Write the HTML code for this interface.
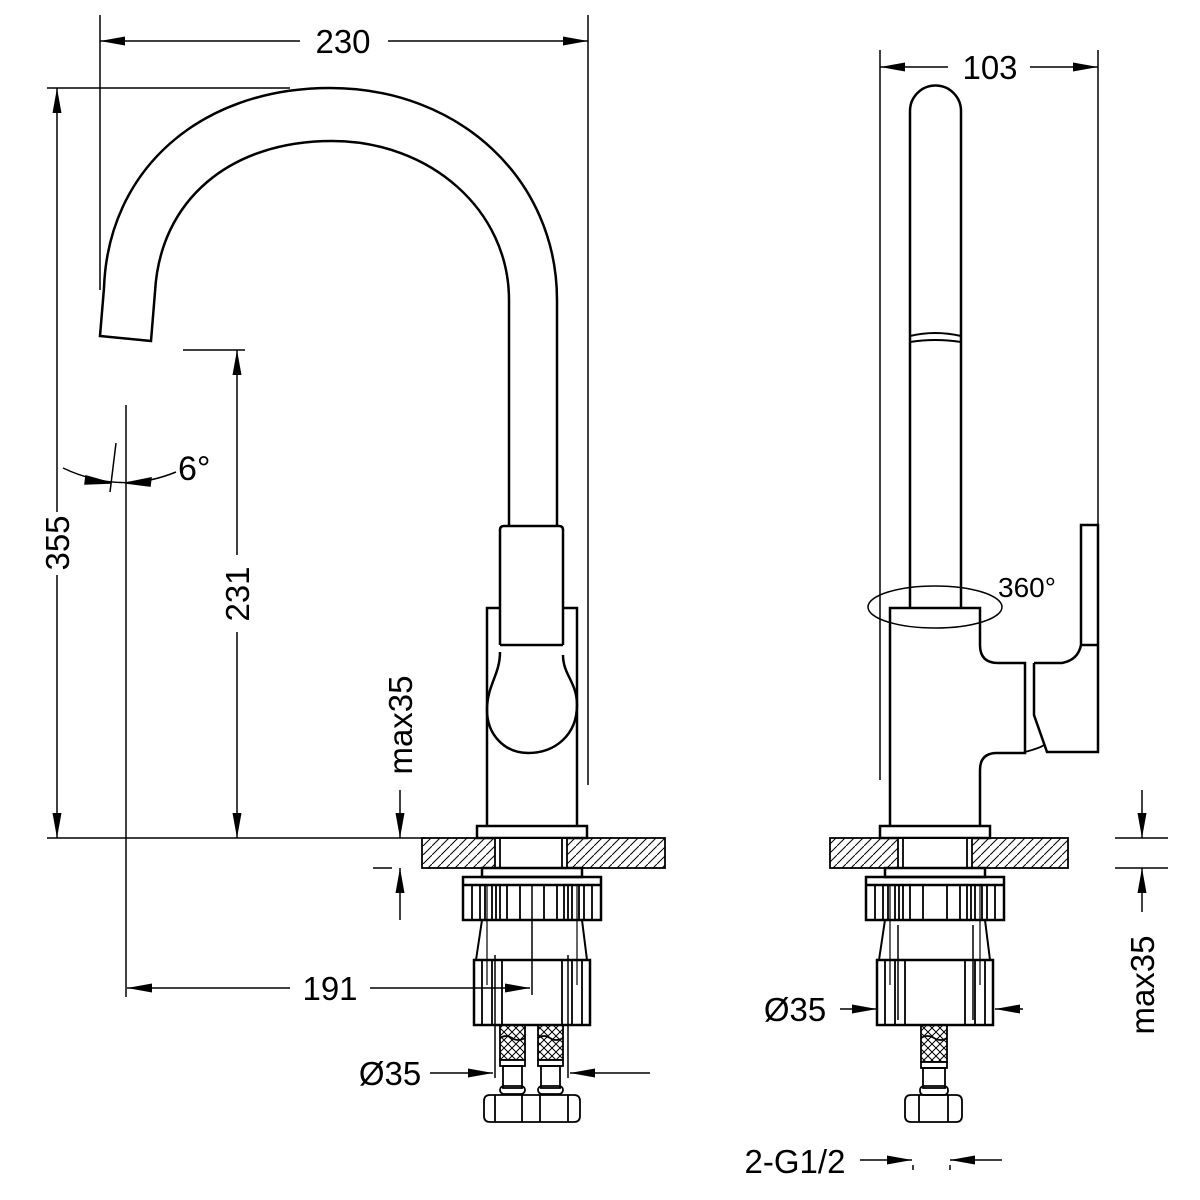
<!DOCTYPE html>
<html><head><meta charset="utf-8"><style>html,body{margin:0;padding:0;background:#fff}svg{display:block}text{font-family:"Liberation Sans",sans-serif;font-size:33px;fill:#000}</style></head>
<body>
<svg width="1200" height="1200" viewBox="0 0 1200 1200" xmlns="http://www.w3.org/2000/svg">
<defs>
<marker id="a" markerUnits="userSpaceOnUse" markerWidth="30" markerHeight="12" refX="0" refY="0" viewBox="-26 -6 28 12" orient="auto-start-reverse"><path d="M0,0 L-25,-4.5 L-25,4.5 Z" fill="#000"/></marker>
<pattern id="h" patternUnits="userSpaceOnUse" width="9" height="9"><path d="M-1,10 L10,-1" stroke="#000" stroke-width="1"/></pattern>
<pattern id="x" patternUnits="userSpaceOnUse" width="8" height="8"><path d="M-1,9 L9,-1 M-1,-1 L9,9" stroke="#000" stroke-width="1"/></pattern>
<g id="under" fill="none" stroke="#000" stroke-width="2.5">
<rect x="-50" y="868" width="100" height="9" fill="#fff"/>
<rect x="-69" y="877" width="138" height="43"/>
<line x1="-69" y1="885" x2="69" y2="885"/>
<g stroke-width="1.8"><path d="M-60,885V920M-52,885V920M-47,885V920M-40,885V920M-36,885V920M-32,885V920M-25,885V920M-12,885V920M12,885V920M25,885V920M32,885V920M36,885V920M40,885V920M47,885V920M52,885V920M60,885V920"/></g>
<path d="M-50,920 L-56,960 M50,920 L55,960" stroke-width="2"/>
<rect x="-58" y="960" width="116" height="65"/>
<g stroke-width="1.8"><path d="M-50,960V1025M-40,960V1025M-30,960V1025M30,960V1025M40,960V1025M50,960V1025"/></g>
<path d="M-45,885V985 M45,885V985" stroke-width="1.2"/>
</g>
</defs>

<g fill="none" stroke="#000" stroke-width="1.5">
<line x1="100" y1="15" x2="100" y2="290"/>
<line x1="588" y1="15" x2="588" y2="785"/>
<line x1="100" y1="41" x2="300" y2="41" marker-start="url(#a)"/>
<line x1="388" y1="41" x2="588" y2="41" marker-end="url(#a)"/>
<line x1="47" y1="88" x2="290" y2="88"/>
<line x1="57" y1="88" x2="57" y2="512" marker-start="url(#a)"/>
<line x1="57" y1="575" x2="57" y2="838" marker-end="url(#a)"/>
<line x1="183" y1="350" x2="245" y2="350"/>
<line x1="237" y1="350" x2="237" y2="555" marker-start="url(#a)"/>
<line x1="237" y1="632" x2="237" y2="838" marker-end="url(#a)"/>
<line x1="47" y1="838" x2="425" y2="838"/>
<line x1="400" y1="790" x2="400" y2="838" marker-end="url(#a)"/>
<line x1="400" y1="920" x2="400" y2="868" marker-end="url(#a)"/>
<line x1="373" y1="868" x2="392" y2="868"/>
<line x1="126" y1="405" x2="126" y2="997"/>
<line x1="127" y1="988" x2="290" y2="988" marker-start="url(#a)"/>
<line x1="370" y1="988" x2="530" y2="988" marker-end="url(#a)"/>
<line x1="430" y1="1073" x2="493" y2="1073" marker-end="url(#a)"/>
<line x1="650" y1="1073" x2="570" y2="1073" marker-end="url(#a)"/>
<line x1="495" y1="955" x2="495" y2="1078"/>
<line x1="568" y1="955" x2="568" y2="1078"/>
<line x1="116" y1="443" x2="110" y2="492"/>
<path d="M63,468 Q120,495 176,472"/>
<path d="M111,483 L86,476 L85,484 Z M126,483 L151,478 L150,486 Z" fill="#000"/>

<g stroke-width="2.5">
<path d="M104,288 L100,336 L151,341 L155,292"/>
<path d="M104,288 C108,170 200,88 330,88 C460,88 557,180 557,300 L557,526"/>
<path d="M155,292 C160,200 230,141 332,141 C430,141 509,210 509,300 L509,526"/>
<path d="M500,645 L500,530 Q500,526 504,526 L559,526 Q563,526 563,530 L563,645"/>
<line x1="500" y1="645" x2="563" y2="645"/>
<path d="M500,652 C500,675 487,685 487,710 C487,735 505,753 528,753 C555,753 577,735 577,705 C577,682 563,675 563,655"/>
<path d="M500,608 L487,608 L487,826 M563,608 L577,608 L577,826"/>
<rect x="477" y="826" width="110" height="12"/>
</g>
<rect x="422" y="838" width="243" height="30" fill="url(#h)" stroke-width="1.8"/>
<rect x="495" y="839" width="72" height="28" fill="#fff" stroke="none"/>
<path d="M495,838V868M500,838V868M562,838V868M567,838V868" stroke-width="1.8"/>
<use href="#under" x="532"/>
<line x1="532" y1="885" x2="532" y2="995" stroke-width="1.5"/>
<g stroke-width="1.8">
<rect x="500" y="1025" width="25" height="35" fill="url(#x)"/>
<rect x="538" y="1025" width="25" height="35" fill="url(#x)"/>
<path d="M500,1038 q6,-4 12,0 t13,0 M538,1038 q6,-4 12,0 t13,0" stroke="#000"/>
<rect x="500" y="1060" width="25" height="6" fill="#fff"/><rect x="538" y="1060" width="25" height="6" fill="#fff"/>
<rect x="503" y="1066" width="19" height="22"/><rect x="541" y="1066" width="19" height="22"/>
<rect x="500" y="1086" width="25" height="8" rx="4"/><rect x="538" y="1086" width="25" height="8" rx="4"/>
<path d="M490,1095 H574 Q580,1095 580,1101 V1116 Q580,1122 574,1122 H490 Q484,1122 484,1116 V1101 Q484,1095 490,1095 Z"/>
<path d="M495,1095V1122M522,1095V1122M540,1095V1122M568,1095V1122"/>
</g>

<line x1="880" y1="50" x2="880" y2="780"/>
<line x1="1098" y1="50" x2="1098" y2="525"/>
<line x1="880" y1="67" x2="948" y2="67" marker-start="url(#a)"/>
<line x1="1030" y1="67" x2="1098" y2="67" marker-end="url(#a)"/>
<g stroke-width="2.5">
<path d="M910,608 L910,111 A25.5,25.5 0 0 1 961,111 L961,608"/>
<path d="M910,336 Q935,330 961,336 M910,342 Q935,338 961,342" stroke-width="2"/>
<path d="M890,826 L890,608 L980,608 L980,645 Q980,663 998,663 L1025,663 L1025,753 L997,753 Q980,753 980,770 L980,826"/>
<path d="M1034,663 L1034,715 L1047,752 L1098,752 L1098,525 L1081,525 L1081,645 Q1078,660 1062,663 L1034,663"/>
<line x1="1081" y1="645" x2="1098" y2="645"/>
<path d="M1025,752 Q1040,748 1044,745" stroke-width="1.8"/>
<rect x="880" y="826" width="110" height="12"/>
</g>
<ellipse cx="935" cy="607" rx="67" ry="21" stroke-width="1.5"/>
<rect x="830" y="838" width="238" height="30" fill="url(#h)" stroke-width="1.8"/>
<rect x="898" y="839" width="74" height="28" fill="#fff" stroke="none"/>
<path d="M898,838V868M903,838V868M967,838V868M972,838V868" stroke-width="1.8"/>
<use href="#under" x="935"/>
<g stroke-width="1.8">
<rect x="921" y="1025" width="26" height="37" fill="url(#x)"/>
<path d="M921,1038 q6,-4 13,0 t13,0"/>
<rect x="921" y="1062" width="26" height="6" fill="#fff"/>
<rect x="923" y="1068" width="22" height="20"/>
<rect x="920" y="1086" width="28" height="9" rx="4"/>
<path d="M911,1095 H956 Q962,1095 962,1101 V1116 Q962,1122 956,1122 H911 Q905,1122 905,1116 V1101 Q905,1095 911,1095 Z"/>
<path d="M919,1095V1122M948,1095V1122"/>
</g>
<line x1="840" y1="1009" x2="877" y2="1009" marker-end="url(#a)"/>
<line x1="1023" y1="1009" x2="995" y2="1009" marker-end="url(#a)"/>
<line x1="898" y1="925" x2="898" y2="1020"/>
<line x1="973" y1="925" x2="973" y2="1020"/>
<line x1="1115" y1="838" x2="1168" y2="838"/>
<line x1="1115" y1="868" x2="1168" y2="868"/>
<line x1="1142" y1="790" x2="1142" y2="838" marker-end="url(#a)"/>
<line x1="1142" y1="912" x2="1142" y2="868" marker-end="url(#a)"/>
<line x1="860" y1="1160" x2="912" y2="1160" marker-end="url(#a)"/>
<line x1="1002" y1="1160" x2="950" y2="1160" marker-end="url(#a)"/>
<path d="M913,1165V1170M950,1165V1170"/>
</g>

<text x="343" y="53" text-anchor="middle">230</text>
<text x="990" y="79" text-anchor="middle">103</text>
<text transform="translate(69,543) rotate(-90)" text-anchor="middle">355</text>
<text transform="translate(249,594) rotate(-90)" text-anchor="middle">231</text>
<text transform="translate(412,725) rotate(-90)" text-anchor="middle">max35</text>
<text transform="translate(1154,985) rotate(-90)" text-anchor="middle">max35</text>
<text x="330" y="1000" text-anchor="middle">191</text>
<text x="390" y="1085" text-anchor="middle">Ø35</text>
<text x="795" y="1021" text-anchor="middle">Ø35</text>
<text x="795" y="1173" text-anchor="middle">2-G1/2</text>
<text x="1027" y="597" text-anchor="middle" style="font-size:28px">360°</text>
<text x="178" y="480" style="font-size:34px">6°</text>
</svg>
</body></html>
